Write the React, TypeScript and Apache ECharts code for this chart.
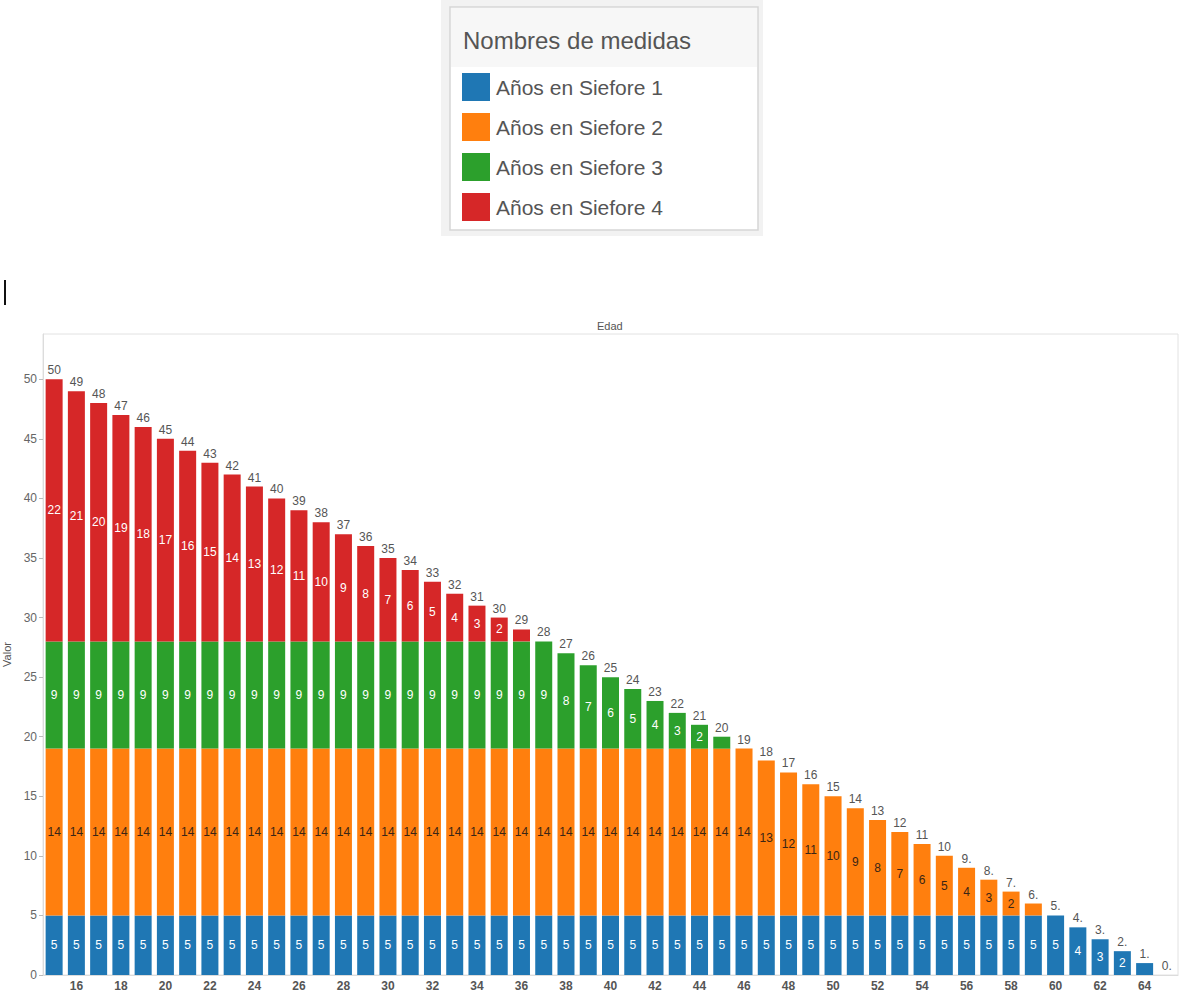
import React, { useEffect, useRef } from "react";
import * as echarts from "echarts";

const ages = [15,16,17,18,19,20,21,22,23,24,25,26,27,28,29,30,31,32,33,34,35,36,37,38,39,40,41,42,43,44,45,46,47,48,49,50,51,52,53,54,55,56,57,58,59,60,61,62,63,64,65];
const siefore1 = [5,5,5,5,5,5,5,5,5,5,5,5,5,5,5,5,5,5,5,5,5,5,5,5,5,5,5,5,5,5,5,5,5,5,5,5,5,5,5,5,5,5,5,5,5,5,4,3,2,1,0];
const siefore2 = [14,14,14,14,14,14,14,14,14,14,14,14,14,14,14,14,14,14,14,14,14,14,14,14,14,14,14,14,14,14,14,14,13,12,11,10,9,8,7,6,5,4,3,2,1,0,0,0,0,0,0];
const siefore3 = [9,9,9,9,9,9,9,9,9,9,9,9,9,9,9,9,9,9,9,9,9,9,9,8,7,6,5,4,3,2,1,0,0,0,0,0,0,0,0,0,0,0,0,0,0,0,0,0,0,0,0];
const siefore4 = [22,21,20,19,18,17,16,15,14,13,12,11,10,9,8,7,6,5,4,3,2,1,0,0,0,0,0,0,0,0,0,0,0,0,0,0,0,0,0,0,0,0,0,0,0,0,0,0,0,0,0];
const seriesNames = ["Años en Siefore 1", "Años en Siefore 2", "Años en Siefore 3", "Años en Siefore 4"];
const colors = ["#1f77b4", "#ff7f0e", "#2ca02c", "#d62728"];
const labelColors = ["#ffffff", "#3a2515", "#ffffff", "#ffffff"];
const yTicks = [0, 5, 10, 15, 20, 25, 30, 35, 40, 45, 50];

const FONT = "'Liberation Sans', Arial, sans-serif";

export default function App() {
  const ref = useRef<HTMLDivElement>(null);
  useEffect(() => {
    document.body.style.margin = "0";
    if (!ref.current) return;
    const chart = echarts.init(ref.current, undefined, { renderer: "svg" });
    const parts = [siefore1, siefore2, siefore3, siefore4];
    const totals = ages.map((_, i) => parts.reduce((s, p) => s + p[i], 0));

    const stacked = parts.map((vals, k) => ({
      name: seriesNames[k],
      type: "bar",
      stack: "total",
      barWidth: 17,
      data: vals,
      itemStyle: { color: colors[k] },
      label: {
        show: true,
        position: "inside",
        color: labelColors[k],
        fontSize: 12,
        fontFamily: FONT,
        formatter: (p: any) => (p.value >= 2 ? String(p.value) : ""),
      },
    }));

    const option: any = {
      animation: false,
      textStyle: { fontFamily: FONT },
      title: {
        text: "Edad",
        left: 592,
        top: 315,
        textStyle: { fontSize: 11, fontWeight: "normal", color: "#555", fontFamily: FONT },
      },
      legend: {
        data: seriesNames,
        orient: "vertical",
        left: 457,
        top: 68,
        itemWidth: 28,
        itemHeight: 28,
        itemGap: 12,
        icon: "rect",
        selectedMode: false,
        textStyle: { fontSize: 21, color: "#555", fontFamily: FONT, padding: [0, 0, 0, 1] },
      },
      graphic: [
        { type: "rect", shape: { x: 441, y: 0, width: 322, height: 236 }, style: { fill: "#f2f2f2" }, z: -10 },
        { type: "rect", shape: { x: 450, y: 7, width: 308, height: 223 }, style: { fill: "#ffffff", stroke: "#d6d6d6", lineWidth: 1.5 }, z: -9 },
        { type: "rect", shape: { x: 451, y: 8, width: 306, height: 59 }, style: { fill: "#f7f7f7" }, z: -8 },
        { type: "text", x: 463, y: 40, style: { text: "Nombres de medidas", fontSize: 24, fill: "#555", fontFamily: FONT, textVerticalAlign: "middle" }, z: 5 },
        { type: "line", shape: { x1: 5, y1: 280, x2: 5, y2: 305 }, style: { stroke: "#111", lineWidth: 2 } },
      ],
      grid: {
        left: 43,
        right: 2,
        top: 334,
        bottom: 21,
        show: true,
        containLabel: false,
        outerBoundsMode: "none",
        borderColor: "#e2e2e2",
        borderWidth: 1,
      },
      xAxis: {
        type: "category",
        data: ages.map(String),
        axisLine: { show: true, lineStyle: { color: "#dcdcdc" } },
        axisTick: { show: false },
        axisLabel: {
          interval: (idx: number, val: string) => Number(val) % 2 === 0,
          color: "#555",
          fontSize: 12,
          fontWeight: "bold",
          margin: 5,
          fontFamily: FONT,
        },
      },
      yAxis: {
        type: "value",
        min: 0,
        max: 53.8,
        interval: 5,
        name: "Valor",
        nameLocation: "middle",
        nameGap: 29,
        nameRotate: 90,
        nameTextStyle: { fontSize: 11, color: "#555", fontFamily: FONT },
        splitLine: { show: false },
        axisLine: { show: true, lineStyle: { color: "#dcdcdc" } },
        axisTick: { show: true, length: 4, lineStyle: { color: "#bbb" } },
        axisLabel: {
          color: "#666",
          fontSize: 12,
          margin: 6,
          showMaxLabel: false,
          fontFamily: FONT,
          formatter: (v: number) => (yTicks.includes(v) ? String(v) : ""),
        },
      },
      series: [
        ...stacked,
        {
          name: "Total",
          type: "bar",
          barWidth: 17,
          barGap: "-100%",
          data: totals,
          itemStyle: { color: "rgba(0,0,0,0)" },
          z: 10,
          label: {
            show: true,
            position: "top",
            distance: 3,
            color: "#555",
            fontSize: 12,
            fontFamily: FONT,
            formatter: (p: any) => (p.value < 10 ? `${p.value}.` : String(p.value)),
          },
        },
      ],
    };
    chart.setOption(option);
    return () => chart.dispose();
  }, []);
  return <div ref={ref} style={{ width: 1180, height: 996 }} />;
}
